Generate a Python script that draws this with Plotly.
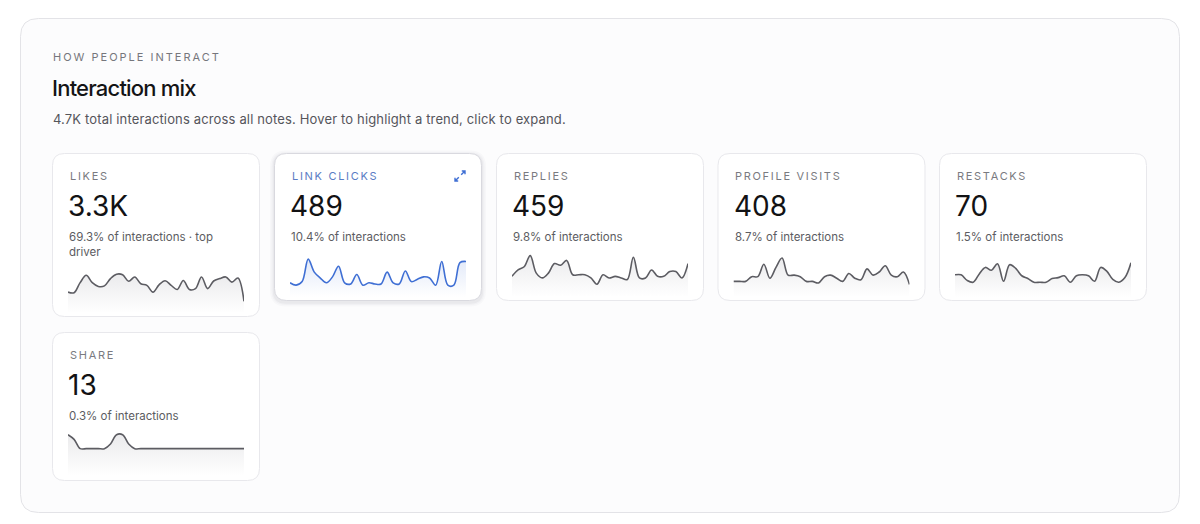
import json
import plotly.graph_objects as go

W, H = 1200, 524

# ---------------- data ----------------
eyebrow = "HOW PEOPLE INTERACT"
title = "Interaction mix"
subtitle = "4.7K total interactions across all notes. Hover to highlight a trend, click to expand."

metrics = ["LIKES", "LINK CLICKS", "REPLIES", "PROFILE VISITS", "RESTACKS", "SHARE"]
totals = ["3.3K", "489", "459", "408", "70", "13"]
share_text = [
    "69.3% of interactions · top<br>driver",
    "10.4% of interactions",
    "9.8% of interactions",
    "8.7% of interactions",
    "1.5% of interactions",
    "0.3% of interactions",
]

days = list(range(1, 31))
likes = [77, 75, 112, 139, 112, 98, 100, 127, 143, 141, 117, 133, 108, 102, 77,
         104, 119, 102, 87, 120, 87, 90, 133, 90, 118, 127, 133, 114, 129, 43]
link_clicks = [12, 10, 13, 32, 21, 16, 12, 17, 26, 12, 11, 19, 10, 12, 11,
               11, 21, 12, 11, 22, 13, 15, 17, 16, 10, 30, 10, 10, 29, 30]
replies = [13, 17, 19, 26, 15, 12, 15, 21, 20, 23, 14, 14, 14, 12, 8,
           14, 12, 13, 12, 11, 25, 12, 12, 17, 13, 13, 16, 16, 12, 21]
profile_visits = [10, 10, 10, 13, 13, 21, 12, 19, 25, 14, 14, 13, 10, 10, 9,
                  13, 14, 12, 10, 15, 12, 11, 18, 14, 16, 20, 14, 13, 16, 8]
restacks = [2.4, 2.4, 1.8, 1.6, 2.5, 3.2, 2.9, 3.6, 1.7, 3.5, 3.1, 2.3, 2.0, 1.6, 1.6,
            1.6, 2.0, 2.1, 2.3, 1.6, 2.3, 2.4, 2.3, 1.7, 3.2, 2.8, 1.9, 1.6, 2.1, 3.7]
share = [3, 2, 0, 0, 0, 0, 0, 1, 3, 3, 1, 0, 0, 0, 0,
         0, 0, 0, 0, 0, 0, 0, 0, 0, 0, 0, 0, 0, 0, 0]

series = [likes, link_clicks, replies, profile_visits, restacks, share]

# ---------------- layout / style ----------------
y_ranges = [[0, 166], [0, 38], [0, 28.3], [0, 28.8], [0, 4.87], [-5.86, 3.79]]
card_left = [52, 274, 496, 717.5, 939, 52]
card_top = [153, 153, 153, 153, 153, 332]
card_h = [164, 148, 148, 148, 148, 149]
card_w = 208
spark_shift = [16, 0, 0, 0, 0, 0]
active = 1  # highlighted card (Link clicks)

FONT = "Inter, 'Noto Sans', sans-serif"
BLUE = "#3f6fd4"
GRAY_LINE = "#5c5c62"


def px(x):
    return x / W


def py(y):
    return 1 - y / H


def rrect(x0, y0, x1, y1, r):
    pts = [
        ("M", [(x0 + r, y0)]), ("L", [(x1 - r, y0)]), ("Q", [(x1, y0), (x1, y0 + r)]),
        ("L", [(x1, y1 - r)]), ("Q", [(x1, y1), (x1 - r, y1)]), ("L", [(x0 + r, y1)]),
        ("Q", [(x0, y1), (x0, y1 - r)]), ("L", [(x0, y0 + r)]), ("Q", [(x0, y0), (x0 + r, y0)]),
    ]
    s = ""
    for cmd, ps in pts:
        s += cmd + " " + " ".join(f"{px(a):.6f},{py(b):.6f}" for a, b in ps) + " "
    return s + "Z"


def polyline(segments):
    s = ""
    for seg in segments:
        s += "M " + " L ".join(f"{px(a):.6f},{py(b):.6f}" for a, b in seg) + " "
    return s.strip()


fig = go.Figure()
shapes = []
annotations = []

# outer container
shapes.append(dict(type="path", path=rrect(20.5, 18.5, 1179.5, 512.5, 18), xref="paper", yref="paper",
                   fillcolor="#fcfcfd", line=dict(color="#e3e3e7", width=1), layer="below"))

annotations += [
    dict(text=eyebrow, x=px(51), y=py(57), xanchor="left", yanchor="middle", align="left",
         font=dict(family=FONT, size=11, color="#76767c")),
    dict(text=title, x=px(50), y=py(88), xanchor="left", yanchor="middle", align="left",
         font=dict(family=FONT, size=22, color="#141416", weight=500)),
    dict(text=subtitle, x=px(50.5), y=py(119), xanchor="left", yanchor="middle", align="left",
         font=dict(family=FONT, size=13, color="#55555b")),
]

for i, name in enumerate(metrics):
    L, T, Hc = card_left[i], card_top[i], card_h[i]
    R, B = L + card_w, T + Hc
    if i == active:
        for grow, alpha in [(4, 0.018), (2.5, 0.025), (1.2, 0.035)]:
            shapes.append(dict(type="path", path=rrect(L - grow, T - grow + 1.5, R + grow, B + grow + 1.5, 12 + grow),
                               xref="paper", yref="paper", fillcolor=f"rgba(20,20,40,{alpha})",
                               line=dict(width=0), layer="below"))
    shapes.append(dict(type="path", path=rrect(L + 0.5, T + 0.5, R - 0.5, B - 0.5, 12), xref="paper", yref="paper",
                       fillcolor="#ffffff",
                       line=dict(color="#d9d9df" if i == active else "#e8e8ec", width=1), layer="below"))

    tx = L + 15
    annotations.append(dict(text=name, x=px(tx + 0.5), y=py(T + 23), xanchor="left", yanchor="middle",
                            align="left",
                            font=dict(family=FONT, size=11, color="#5a7cc4" if i == active else "#7a7a80")))
    annotations.append(dict(text=totals[i], x=px(tx - 1), y=py(T + 53), xanchor="left", yanchor="middle",
                            align="left", font=dict(family=FONT, size=28, color="#121214")))
    annotations.append(dict(text=share_text[i], x=px(tx), y=py(T + 75), xanchor="left", yanchor="top",
                            align="left", font=dict(family=FONT, size=11.5, color="#5c5c62")))

    # sparkline axes
    st = T + 99 + spark_shift[i]
    sb = T + 144 + spark_shift[i]
    ax_id = "" if i == 0 else str(i + 1)
    fig.update_layout(**{
        f"xaxis{ax_id}": dict(domain=[px(L + 16), px(L + 192)], range=[days[0], days[-1]], visible=False,
                              anchor=f"y{ax_id}", fixedrange=True),
        f"yaxis{ax_id}": dict(domain=[py(sb), py(st)], range=y_ranges[i], visible=False,
                              anchor=f"x{ax_id}", fixedrange=True),
    })
    vals = series[i]
    lo = y_ranges[i][0]
    col = BLUE if i == active else GRAY_LINE
    rgb = "63,111,212" if i == active else "110,110,122"
    top_a = 0.15 if i == active else 0.14
    fig.add_trace(go.Scatter(x=days, y=[lo] * len(days), mode="lines", line=dict(width=0),
                             hoverinfo="skip", showlegend=False, xaxis=f"x{ax_id}", yaxis=f"y{ax_id}"))
    fig.add_trace(go.Scatter(
        x=days, y=vals, mode="lines", name=name.title(),
        line=dict(color=col, width=1.6, shape="spline", smoothing=1),
        fill="tonexty",
        fillgradient=dict(type="vertical", start=lo, stop=max(vals),
                          colorscale=[[0, f"rgba({rgb},0)"], [1, f"rgba({rgb},{top_a})"]]),
        showlegend=False, xaxis=f"x{ax_id}", yaxis=f"y{ax_id}"))

# expand icon on the highlighted card
iL, iT = card_left[active], card_top[active]
cx, cy = iL + 186, iT + 23
icon = polyline([
    [(cx + 1.2, cy - 1.2), (cx + 5, cy - 5)],
    [(cx + 1.8, cy - 5), (cx + 5, cy - 5), (cx + 5, cy - 1.8)],
    [(cx - 1.2, cy + 1.2), (cx - 5, cy + 5)],
    [(cx - 5, cy + 1.8), (cx - 5, cy + 5), (cx - 1.8, cy + 5)],
])
shapes.append(dict(type="path", path=icon, xref="paper", yref="paper",
                   line=dict(color=BLUE, width=1.4), layer="above"))

for a in annotations:
    a.setdefault("xref", "paper")
    a.setdefault("yref", "paper")
    a.setdefault("showarrow", False)

fig.update_layout(
    width=W, height=H, margin=dict(l=0, r=0, t=0, b=0),
    paper_bgcolor="#ffffff", plot_bgcolor="rgba(0,0,0,0)",
    shapes=shapes, annotations=annotations, hovermode=False, showlegend=False,
)

spacing = {eyebrow: "2.0px", title: "-0.8px", subtitle: "0.15px"}
for m in metrics:
    spacing[m] = "1.7px"
post = ("document.body.style.margin = '0'; document.body.style.overflow = 'hidden';"
        "var sp = " + json.dumps(spacing) + ";"
        "document.querySelectorAll('.annotation-text').forEach(function(t){"
        "var k = t.textContent; if (sp[k] !== undefined) { t.style.letterSpacing = sp[k]; }});")

fig.write_html("out.html", config={"displayModeBar": False, "staticPlot": True}, post_script=post)
